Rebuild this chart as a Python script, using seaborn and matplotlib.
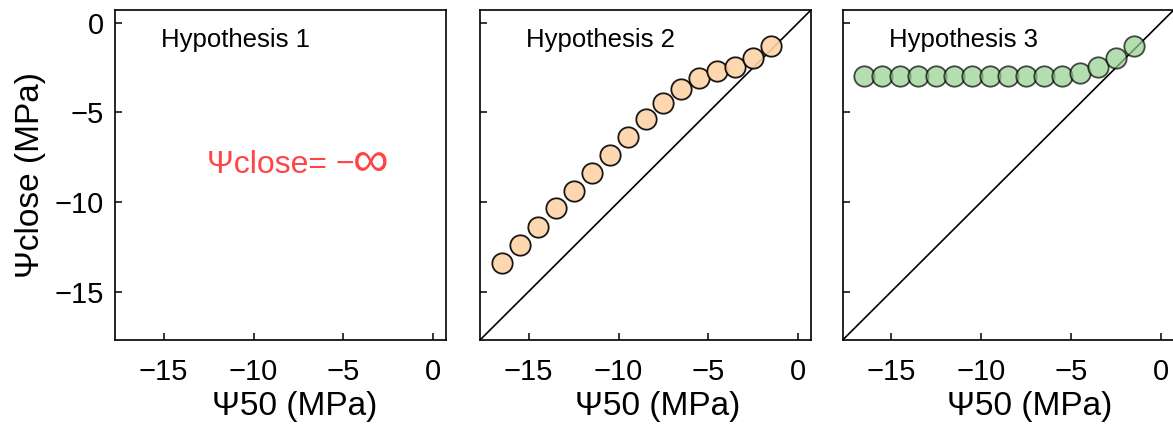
import matplotlib
matplotlib.use("Agg")
import matplotlib.pyplot as plt
import seaborn as sns
import pandas as pd

# ---- data ----
psi50 = [-16.5, -15.5, -14.5, -13.5, -12.5, -11.5, -10.5, -9.5,
         -8.5, -7.5, -6.5, -5.5, -4.5, -3.5, -2.5, -1.5]
psi_close_h2 = [-13.4, -12.4, -11.4, -10.35, -9.4, -8.4, -7.4, -6.4,
                -5.4, -4.5, -3.7, -3.1, -2.7, -2.5, -2.0, -1.3]
psi_close_h3 = [-3.0, -3.0, -3.0, -3.0, -3.0, -3.0, -3.0, -3.0,
                -3.0, -3.0, -3.0, -3.0, -2.8, -2.5, -2.0, -1.3]
panel_titles = ["Hypothesis 1", "Hypothesis 2", "Hypothesis 3"]
ticks = [-15, -10, -5, 0]
lims = (-17.7, 0.7)

sns.set_theme(style="white")
plt.rcParams['font.family'] = ['Liberation Sans', 'DejaVu Sans']
plt.rcParams['axes.unicode_minus'] = True

fig = plt.figure(figsize=(11.73, 4.28), dpi=100)
W = 331 / 1173
H = 330 / 428
B = 88 / 428
lefts = [115 / 1173, 480 / 1173, 842.7 / 1173]
xlabel_x = [0.544, 0.538, 0.566]
axes = [fig.add_axes([l, B, W, H]) for l in lefts]

df2 = pd.DataFrame({"psi50": psi50, "psi_close": psi_close_h2})
df3 = pd.DataFrame({"psi50": psi50, "psi_close": psi_close_h3})

sns.scatterplot(data=df2, x="psi50", y="psi_close", ax=axes[1], s=215,
                color="#FDD3A8", alpha=0.9, edgecolor="black",
                linewidth=1.3, zorder=3, legend=False)
sns.scatterplot(data=df3, x="psi50", y="psi_close", ax=axes[2], s=215,
                color="#95D18E", alpha=0.7, edgecolor="black",
                linewidth=1.3, zorder=3, legend=False)

for i, ax in enumerate(axes):
    ax.set_xlim(lims)
    ax.set_ylim(lims)
    ax.set_xticks(ticks)
    ax.set_yticks(ticks)
    ax.tick_params(direction="in", length=5, width=1.1, colors="black",
                   labelsize=21, bottom=True, left=True,
                   top=False, right=False)
    ax.tick_params(axis="x", pad=13)
    ax.tick_params(axis="y", pad=8)
    for s in ax.spines.values():
        s.set_color("black")
        s.set_linewidth(1.2)
    ax.set_xlabel("Ψ50 (MPa)", fontsize=24, color="black")
    ax.xaxis.set_label_coords(xlabel_x[i], -0.156)
    ax.xaxis.label.set_va("top")
    if i == 0:
        ax.set_ylabel("Ψclose (MPa)", fontsize=24, labelpad=6, color="black")
    else:
        ax.set_ylabel("")
        ax.set_yticklabels([])
        ax.plot(lims, lims, color="black", lw=1.2, zorder=1)
    ax.text(-15.15, -1.0, panel_titles[i], fontsize=18.5, va="center",
            ha="left", color="black")

axes[0].text(-12.56, -7.95, "Ψclose= −", fontsize=23, color="#FF4545",
             ha="left", va="center")
axes[0].text(-3.5, -7.85, "∞", fontsize=36, color="#FF4545",
             ha="center", va="center")

fig.savefig("out.png", dpi=100)
